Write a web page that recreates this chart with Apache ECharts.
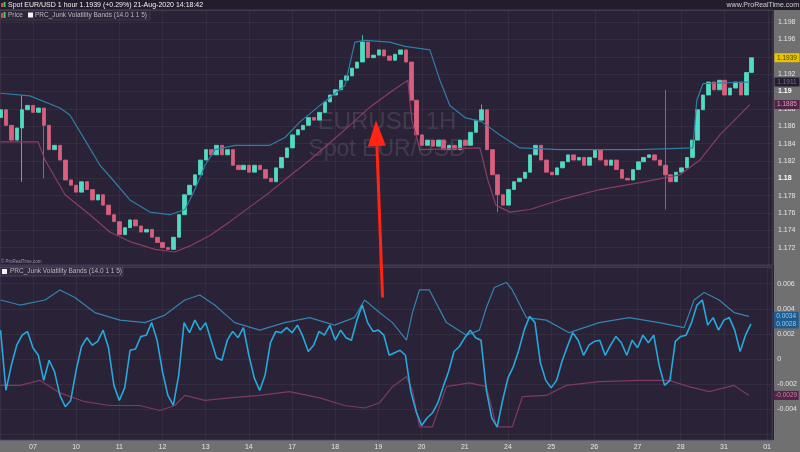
<!DOCTYPE html>
<html>
<head>
<meta charset="utf-8">
<script src="https://cdn.jsdelivr.net/npm/echarts@6/dist/echarts.min.js"></script>
<style>
  html, body { margin: 0; padding: 0; background: #2a2236; }
  #chart { width: 800px; height: 452px; }
</style>
</head>
<body>
<div id="chart"></div>
<script>
// time axis: trading hours counted from 07 Aug 00:00
const dayLabels = ['07', '10', '11', '12', '13', '14', '17', '18', '19', '20', '21', '24', '25', '26', '27', '28', '31', '01'];
const dayHours = [0, 24, 48, 72, 96, 120, 144, 168, 192, 216, 240, 264, 288, 312, 336, 360, 384, 408];
const axisMinHour = -18.3;
const axisMaxHour = 410.8;

// price candles, one every 3 hours
const startHour = -18;
const stepHours = 3;
const firstOpen = 1.1870;
const closes = [
  1.1879, 1.1861, 1.1844, 1.1858, 1.1879, 1.1884, 1.1876, 1.1881, 1.1861, 1.1833,
  1.1838, 1.1821, 1.1798, 1.1792, 1.1784, 1.1796, 1.1787, 1.1775, 1.1781, 1.1769,
  1.1758, 1.1750, 1.1735, 1.1743, 1.1752, 1.1745, 1.1738, 1.1741, 1.1732, 1.1726,
  1.1720, 1.1718, 1.1732, 1.1758, 1.1781, 1.1792, 1.1804, 1.1821, 1.1833, 1.1827,
  1.1838, 1.1827, 1.1833, 1.1815, 1.1810, 1.1815, 1.1807, 1.1815, 1.1810, 1.1800,
  1.1796, 1.1812, 1.1824, 1.1835, 1.1850, 1.1856, 1.1861, 1.1870, 1.1867, 1.1876,
  1.1888, 1.1896, 1.1902, 1.1913, 1.1918, 1.1927, 1.1934, 1.1957, 1.1939, 1.1942,
  1.1948, 1.1941, 1.1936, 1.1943, 1.1948, 1.1934, 1.1890, 1.1850, 1.1838, 1.1844,
  1.1837, 1.1844, 1.1833, 1.1838, 1.1833, 1.1844, 1.1838, 1.1853, 1.1867, 1.1879,
  1.1833, 1.1804, 1.1781, 1.1769, 1.1787, 1.1796, 1.1800, 1.1807, 1.1827, 1.1838,
  1.1821, 1.1807, 1.1804, 1.1812, 1.1819, 1.1827, 1.1821, 1.1824, 1.1815, 1.1824,
  1.1833, 1.1821, 1.1815, 1.1821, 1.1810, 1.1800, 1.1798, 1.1810, 1.1819, 1.1824,
  1.1827, 1.1821, 1.1815, 1.1804, 1.1796, 1.1807, 1.1812, 1.1824, 1.1844, 1.1879,
  1.1896, 1.1911, 1.1902, 1.1913, 1.1896, 1.1904, 1.1911, 1.1896, 1.1922, 1.1939
];
// long wicks: [candle index, high, low]
const spikes = [[4, 1.1896, 1.1796], [8, 1.1881, 1.1800], [67, 1.1965, 1.1934], [89, 1.1885, 1.1867], [92, 1.1781, 1.1761], [123, 1.1902, 1.1764]];

// volatility bands on price: [hour, price]
const upperBand = [
  [-18, 1.1898], [-1.7, 1.1895], [15, 1.1881], [20.5, 1.1873], [28.9, 1.1844], [37.2, 1.1815], [44.4, 1.1798],
  [53.8, 1.1775], [64.9, 1.1761], [76, 1.1758], [84.4, 1.1764], [89.9, 1.1787], [95.5, 1.1815], [101, 1.1833],
  [112.1, 1.1838], [131.5, 1.1838], [139.9, 1.1847], [148.2, 1.1865], [159.3, 1.1884], [173.2, 1.1907],
  [178.7, 1.1957], [184.3, 1.1959], [198.1, 1.1957], [206.5, 1.1952], [220.3, 1.1948], [225.9, 1.1913],
  [231.4, 1.1884], [239.8, 1.1870], [249.2, 1.1865], [259.2, 1.1850], [270.3, 1.1835], [292.5, 1.1833],
  [314.7, 1.1833], [336.9, 1.1833], [366.3, 1.1835], [368.5, 1.1890], [371.9, 1.1909], [397.9, 1.1911]
];
const lowerBand = [
  [-18, 1.1842], [2.8, 1.1842], [6.7, 1.1821], [17.8, 1.1781], [31.6, 1.1758], [42.7, 1.1738], [53.8, 1.1727],
  [67.7, 1.1718], [78.8, 1.1715], [87.1, 1.1722], [98.2, 1.1734], [109.3, 1.1750], [120.4, 1.1767],
  [131.5, 1.1784], [142.6, 1.1803], [153.7, 1.1821], [164.8, 1.1841], [175.9, 1.1861], [187, 1.1882],
  [198.1, 1.1899], [208.1, 1.1913], [210.3, 1.1867], [214.8, 1.1833], [248.1, 1.1835], [252.5, 1.1798],
  [257, 1.1769], [264.7, 1.1761], [275.8, 1.1764], [292.5, 1.1775], [314.7, 1.1787], [336.9, 1.1795],
  [359.1, 1.1804], [370.2, 1.1821], [381.3, 1.1850], [392.4, 1.1873], [397.9, 1.1885]
];

// lower panel oscillator, same 3-hour steps as the candles
const oscValues = [
  0.0023, -0.0025, -0.0005, 0.0011, 0.0019, 0.0022, 0.0009, 0.0003, -0.0017, -0.0001,
  -0.0010, -0.0029, -0.0038, -0.0033, -0.0009, 0.0010, 0.0017, 0.0011, 0.0014, 0.0023,
  0.0009, -0.0021, -0.0033, -0.0023, 0.0007, 0.0008, 0.0018, 0.0019, 0.0029, 0.0015,
  -0.0010, -0.0029, -0.0037, -0.0013, 0.0029, 0.0021, 0.0031, 0.0023, 0.0029, 0.0015,
  0.0001, -0.0001, 0.0015, 0.0022, 0.0017, 0.0025, 0.0003, -0.0015, -0.0025, -0.0013,
  0.0013, 0.0022, 0.0021, 0.0025, 0.0021, 0.0027, 0.0018, 0.0006, 0.0011, 0.0022,
  0.0019, 0.0027, 0.0015, 0.0023, 0.0017, 0.0015, 0.0031, 0.0043, 0.0029, 0.0022,
  0.0023, 0.0019, 0.0003, 0.0005, 0.0007, 0.0003, -0.0026, -0.0042, -0.0053, -0.0047,
  -0.0043, -0.0035, -0.0022, -0.0010, 0.0006, 0.0010, 0.0017, 0.0023, 0.0017, 0.0015,
  -0.0025, -0.0047, -0.0054, -0.0033, -0.0015, -0.0006, 0.0007, 0.0023, 0.0034, 0.0029,
  -0.0003, -0.0017, -0.0023, -0.0017, -0.0002, 0.0010, 0.0021, 0.0015, 0.0003, 0.0011,
  0.0014, 0.0015, 0.0003, 0.0011, 0.0018, 0.0013, 0.0003, 0.0015, 0.0009, 0.0019,
  0.0013, 0.0019, -0.0005, -0.0021, -0.0017, 0.0014, 0.0018, 0.0019, 0.0029, 0.0043,
  0.0047, 0.0027, 0.0033, 0.0023, 0.0031, 0.0033, 0.0023, 0.0006, 0.0019, 0.0028
];
const oscUpper = [
  [-18, 0.0047], [-7.2, 0.0043], [6.7, 0.0047], [15, 0.0055], [23.3, 0.0049], [34.4, 0.0037], [48.3, 0.0031],
  [62.2, 0.0029], [73.3, 0.0035], [84.4, 0.0047], [92.7, 0.0051], [101, 0.0043], [112.1, 0.0029],
  [126, 0.0023], [139.9, 0.0029], [153.7, 0.0033], [167.6, 0.0027], [178.7, 0.0033], [184.3, 0.0047],
  [192.6, 0.0037], [199.8, 0.0029], [207.6, 0.0015], [210.9, 0.0037], [214.8, 0.0055], [220.3, 0.0055],
  [229.8, 0.0029], [240.9, 0.0019], [248.1, 0.0023], [252, 0.0041], [256.4, 0.0057], [263.1, 0.0061],
  [266.4, 0.0055], [274.2, 0.0033], [285.3, 0.0031], [298, 0.0021], [314.7, 0.0029], [331.3, 0.0033],
  [348, 0.0029], [361.9, 0.0025], [367.4, 0.0047], [373, 0.0053], [381.3, 0.0047], [389.6, 0.0037], [397.9, 0.0034]
];
const oscLower = [
  [-18, -0.0021], [-7.2, -0.0021], [3.9, -0.0017], [15, -0.0027], [28.9, -0.0034], [42.7, -0.0037],
  [59.4, -0.0037], [70.5, -0.0041], [78.8, -0.0037], [84.4, -0.0029], [95.5, -0.0033], [109.3, -0.0031],
  [126, -0.0029], [142.6, -0.0026], [159.3, -0.0031], [173.2, -0.0037], [184.3, -0.0039], [192.6, -0.0035],
  [199.8, -0.0022], [207.6, -0.0014], [210.9, -0.0025], [214.8, -0.0054], [222, -0.0054], [229.8, -0.0022],
  [242.5, -0.0019], [252, -0.0022], [257.6, -0.0054], [266.4, -0.0054], [272, -0.0030], [285.3, -0.0029],
  [296.4, -0.0021], [314.7, -0.0018], [336.9, -0.0017], [353.5, -0.0017], [364.6, -0.0022], [375.7, -0.0026],
  [389.6, -0.0021], [397.9, -0.0029]
];

// red arrow annotation: tail in the oscillator panel, tip in the price panel
const arrowTail = [194.3, 0.0049];
const arrowTip = [190.4, 1.1867];

const candleData = closes.map((c, i) => {
  const o = i === 0 ? firstOpen : closes[i - 1];
  let lo = Math.min(o, c), hi = Math.max(o, c);
  const s = spikes.find(sp => sp[0] === i);
  if (s) { hi = Math.max(hi, s[1]); lo = Math.min(lo, s[2]); }
  return [startHour + i * stepHours, o, c, lo, hi];
});
const oscData = oscValues.map((v, i) => [startHour + i * stepHours, v]);

const FONT = 'Liberation Sans';

// value tag sitting on the right scale, at the last value of a series
const endBadge = (value, bg, fg) => ({
  silent: true,
  animation: false,
  symbol: 'rect',
  symbolSize: [25, 9],
  symbolOffset: [14, 0],
  itemStyle: { color: bg },
  label: {
    show: true, position: 'inside', color: fg, fontSize: 6.5, fontFamily: FONT,
    formatter: () => value.toFixed(4)
  },
  data: [{ coord: [axisMaxHour, value], value: value }]
});

const priceLabel = v => {
  const r = Math.round(v * 1000);
  if (r % 10 === 0) return '{b|' + (r / 1000).toFixed(2) + '}';
  return (r / 1000).toFixed(3);
};
const oscLabel = v => {
  if (Math.abs(v) < 1e-9) return '0';
  if (v < -0.005) return '';
  return v.toFixed(3);
};

const gridLine = { show: true, lineStyle: { color: 'rgba(255,255,255,0.05)', width: 1 } };

const staticGraphics = [
  { type: 'rect', z: -10, shape: { x: 774, y: 10, width: 26, height: 442 }, style: { fill: '#707070' } },
  { type: 'rect', z: -10, shape: { x: 0, y: 440, width: 800, height: 12 }, style: { fill: '#707070' } },
  { type: 'rect', z: -10, shape: { x: 0, y: 0, width: 800, height: 10 }, style: { fill: '#231c2c' } },
  // header
  { type: 'rect', shape: { x: 1, y: 3, width: 2, height: 4 }, style: { fill: '#e04848' } },
  { type: 'rect', shape: { x: 3.5, y: 2, width: 2, height: 5 }, style: { fill: '#3ccf6a' } },
  { type: 'text', x: 8, y: 5, style: { text: 'Spot EUR/USD 1 hour 1.1939 (+0.29%) 21-Aug-2020 14:18:42', fill: '#f0f0f0', fontSize: 7, fontFamily: FONT, verticalAlign: 'middle' } },
  { type: 'text', x: 799, y: 5, style: { text: 'www.ProRealTime.com', fill: '#d0d0d0', fontSize: 7, fontFamily: FONT, align: 'right', verticalAlign: 'middle' } },
  // price panel legend
  { type: 'rect', z: -1, shape: { x: 0, y: 10, width: 150, height: 10 }, style: { fill: '#2e2639', stroke: '#3f3450', lineWidth: 1 } },
  { type: 'rect', shape: { x: 1, y: 13, width: 2, height: 5 }, style: { fill: '#e04848' } },
  { type: 'rect', shape: { x: 3.5, y: 12, width: 2, height: 6 }, style: { fill: '#3ccf6a' } },
  { type: 'text', x: 8, y: 15, style: { text: 'Price', fill: '#b8b8c0', fontSize: 6.5, fontFamily: FONT, verticalAlign: 'middle' } },
  { type: 'rect', shape: { x: 28, y: 12.5, width: 5, height: 5 }, style: { fill: '#f4f4f4' } },
  { type: 'text', x: 35, y: 15, style: { text: 'PRC_Junk Volatility Bands (14.0 1 1 5)', fill: '#b8b8c0', fontSize: 6.5, fontFamily: FONT, verticalAlign: 'middle' } },
  // oscillator panel legend
  { type: 'text', x: 1, y: 262, style: { text: '© ProRealTime.com', fill: '#9a9aa6', fontSize: 4.5, fontFamily: FONT, verticalAlign: 'middle' } },
  { type: 'rect', z: -1, shape: { x: 0, y: 267, width: 123, height: 9 }, style: { fill: '#322a3d', stroke: '#4a405a', lineWidth: 1 } },
  { type: 'rect', shape: { x: 2, y: 269, width: 5, height: 5 }, style: { fill: '#f4f4f4' } },
  { type: 'text', x: 10, y: 271.5, style: { text: 'PRC_Junk Volatility Bands (14.0 1 1 5)', fill: '#b8b8c0', fontSize: 6.5, fontFamily: FONT, verticalAlign: 'middle' } },
  // watermark
  { type: 'text', z: -5, x: 387, y: 122, style: { text: 'EURUSD 1H', fill: 'rgba(200,195,215,0.15)', fontSize: 24, fontFamily: FONT, align: 'center', verticalAlign: 'middle' } },
  { type: 'text', z: -5, x: 387, y: 150, style: { text: 'Spot EUR/USD', fill: 'rgba(200,195,215,0.15)', fontSize: 23, fontFamily: FONT, align: 'center', verticalAlign: 'middle' } }
];

const chart = echarts.init(document.getElementById('chart'));

const option = {
  backgroundColor: '#2a2236',
  animation: false,
  textStyle: { fontFamily: FONT },
  grid: [
    { left: 0, right: 27, top: 10, bottom: 187, show: true, borderColor: '#463b55', borderWidth: 1 },
    { left: 0, right: 27, top: 267, bottom: 12, show: true, borderColor: '#463b55', borderWidth: 1 }
  ],
  xAxis: [
    {
      type: 'value', gridIndex: 0, min: axisMinHour, max: axisMaxHour,
      axisLine: { show: false }, axisTick: { show: false, customValues: dayHours },
      axisLabel: { show: false }, splitLine: gridLine
    },
    {
      type: 'value', gridIndex: 1, min: axisMinHour, max: axisMaxHour,
      axisLine: { show: false }, axisTick: { show: false, customValues: dayHours },
      axisLabel: {
        customValues: dayHours, color: '#e4e4e4', fontSize: 7, margin: 4,
        formatter: v => dayLabels[dayHours.indexOf(v)]
      },
      splitLine: gridLine
    }
  ],
  yAxis: [
    {
      type: 'value', gridIndex: 0, position: 'right', min: 1.170, max: 1.1994, interval: 0.002,
      axisLine: { show: false }, axisTick: { show: false },
      axisLabel: {
        color: '#e4e4e4', fontSize: 7, margin: 5, showMinLabel: false, showMaxLabel: false,
        formatter: priceLabel, rich: { b: { color: '#ffffff', fontWeight: 'bold', fontSize: 7 } }
      },
      splitLine: gridLine
    },
    {
      type: 'value', gridIndex: 1, position: 'right', min: -0.00645, max: 0.00733, splitNumber: 7,
      axisLine: { show: false }, axisTick: { show: false },
      axisLabel: { color: '#e4e4e4', fontSize: 7, margin: 5, showMinLabel: false, showMaxLabel: false, formatter: oscLabel },
      splitLine: gridLine
    }
  ],
  series: [
    {
      name: 'Lower band', type: 'line', xAxisIndex: 0, yAxisIndex: 0, data: lowerBand,
      showSymbol: false, lineStyle: { color: '#8a3d66', width: 1.2 },
      markPoint: endBadge(lowerBand[lowerBand.length - 1][1], '#4f2444', '#e39ac4')
    },
    {
      name: 'Upper band', type: 'line', xAxisIndex: 0, yAxisIndex: 0, data: upperBand,
      showSymbol: false, lineStyle: { color: '#2e7ea6', width: 1.2 },
      markPoint: endBadge(upperBand[upperBand.length - 1][1], '#251d2f', '#6a7290')
    },
    {
      name: 'Price', type: 'candlestick', xAxisIndex: 0, yAxisIndex: 0, data: candleData,
      encode: { x: 0, y: [1, 2, 3, 4] }, barWidth: 4,
      itemStyle: { color: '#4fdcc0', color0: '#d8607c', borderColor: '#4fdcc0', borderColor0: '#d8607c', borderWidth: 0.8 }
    },
    {
      name: 'Last price', type: 'line', xAxisIndex: 0, yAxisIndex: 0, data: [],
      markPoint: endBadge(closes[closes.length - 1], '#e8c400', '#4a3c00')
    },
    {
      name: 'Osc lower', type: 'line', xAxisIndex: 1, yAxisIndex: 1, data: oscLower,
      showSymbol: false, lineStyle: { color: '#7e3a62', width: 1.2 },
      markPoint: endBadge(oscLower[oscLower.length - 1][1], '#4f2444', '#c981ad')
    },
    {
      name: 'Osc upper', type: 'line', xAxisIndex: 1, yAxisIndex: 1, data: oscUpper,
      showSymbol: false, lineStyle: { color: '#3583b3', width: 1.2 },
      markPoint: endBadge(oscUpper[oscUpper.length - 1][1], '#1f5b8c', '#8fc8f0')
    },
    {
      name: 'Oscillator', type: 'line', xAxisIndex: 1, yAxisIndex: 1, data: oscData,
      showSymbol: false, lineStyle: { color: '#27a9de', width: 1.6 },
      markPoint: endBadge(oscValues[oscValues.length - 1], '#1f5b8c', '#8fc8f0')
    }
  ],
  graphic: staticGraphics
};

chart.setOption(option);

// arrow drawn from data coordinates of both panels
const tip = chart.convertToPixel({ gridIndex: 0 }, arrowTip);
const tail = chart.convertToPixel({ gridIndex: 1 }, arrowTail);
const dx = tip[0] - tail[0], dy = tip[1] - tail[1];
const len = Math.hypot(dx, dy);
const ux = dx / len, uy = dy / len;
const headLen = 26, headHalf = 9;
const bx = tip[0] - ux * headLen, by = tip[1] - uy * headLen;
chart.setOption({
  graphic: staticGraphics.concat([
    { type: 'line', z: 100, shape: { x1: tail[0], y1: tail[1], x2: bx, y2: by }, style: { stroke: '#ff2414', lineWidth: 3 } },
    { type: 'polygon', z: 100, shape: { points: [tip, [bx - uy * headHalf, by + ux * headHalf], [bx + uy * headHalf, by - ux * headHalf]] }, style: { fill: '#ff2414' } }
  ])
});
</script>
</body>
</html>
